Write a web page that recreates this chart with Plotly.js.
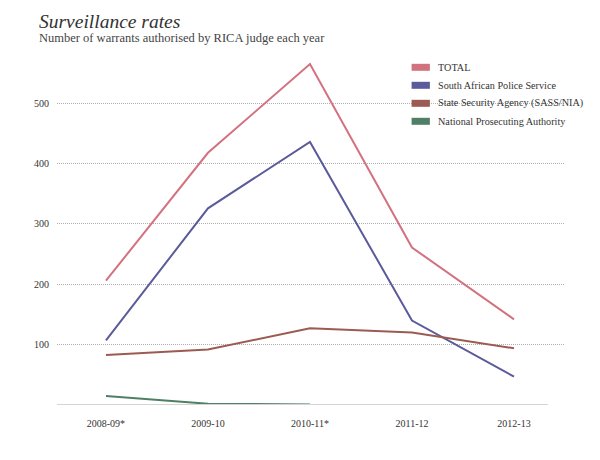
<!DOCTYPE html>
<html>
<head>
<meta charset="utf-8">
<script src="https://cdn.plot.ly/plotly-3.0.1.min.js"></script>
<style>html,body{margin:0;padding:0;background:#fff;}#chart{width:600px;height:460px;}</style>
</head>
<body>
<div id="chart"></div>
<script>
const years = ["2008-09*", "2009-10", "2010-11*", "2011-12", "2012-13"];
const totalVals = [206, 418, 565, 261, 142];
const sapsVals = [107, 326, 436, 140, 47];
const ssaVals = [83, 92, 127, 120, 94];
const npaVals = [15, 2, 1, null, null];
const seriesNames = ["TOTAL", "South African Police Service", "State Security Agency (SASS/NIA)", "National Prosecuting Authority"];
const seriesColors = ["#d3727f", "#5b5b9b", "#9b5b52", "#4f7f66"];
const yTicks = [100, 200, 300, 400, 500];

const serif = "Liberation Serif, DejaVu Serif, serif";
const allVals = [totalVals, sapsVals, ssaVals, npaVals];

const traces = allVals.map((v, i) => ({
  type: "scatter", mode: "lines", x: years, y: v, name: seriesNames[i],
  line: {color: seriesColors[i], width: 2}, connectgaps: false, hoverinfo: "skip"
}));

const H = 356, B = 405;
const py = p => (B - p) / H;
const shapes = [
  {type: "rect", xref: "paper", yref: "paper", x0: 0.6516, x1: 1.0, y0: py(135), y1: py(55), fillcolor: "#fff", line: {width: 0}, layer: "between"},
  {type: "line", xref: "paper", yref: "y", x0: 0, x1: 0.9665, y0: 0, y1: 0, line: {color: "#d4d4d4", width: 2}, layer: "above"}
];
const annotations = [
  {xref: "paper", yref: "paper", x: -0.0394, y: py(21), xanchor: "left", yanchor: "middle", showarrow: false,
   text: "<i>Surveillance rates</i>", font: {family: serif, size: 19.5, color: "#333"}},
  {xref: "paper", yref: "paper", x: -0.0394, y: py(38), xanchor: "left", yanchor: "middle", showarrow: false,
   text: "Number of warrants authorised by RICA judge each year", font: {family: serif, size: 12.5, color: "#444"}}
];
seriesNames.forEach((n, i) => {
  const c = 67.3 + 18 * i;
  shapes.push({type: "rect", xref: "paper", yref: "paper", x0: 0.698, x1: 0.734, y0: py(c + 3.5), y1: py(c - 3.5),
    fillcolor: seriesColors[i], line: {width: 0}, layer: "above"});
  annotations.push({xref: "paper", yref: "paper", x: 0.7455, y: py(c), xanchor: "left", yanchor: "middle", showarrow: false,
    text: n, font: {family: serif, size: 10.2, color: "#333"}});
});

const layout = {
  width: 600, height: 460,
  margin: {l: 57, r: 35, t: 49, b: 55},
  paper_bgcolor: "#fff", plot_bgcolor: "#fff",
  showlegend: false,
  xaxis: {
    type: "category", range: [-0.48, 4.5], showgrid: false, zeroline: false, showline: false,
    ticks: "outside", ticklen: 9, tickcolor: "rgba(0,0,0,0)",
    tickfont: {family: serif, size: 10, color: "#333"}
  },
  yaxis: {
    range: [0, 590], tickvals: yTicks, showgrid: true, gridcolor: "#b0b0b0", griddash: "1px,1px", gridwidth: 1,
    zeroline: false, showline: false, ticks: "", ticklabelstandoff: 7,
    tickfont: {family: serif, size: 10, color: "#333"}
  },
  shapes: shapes,
  annotations: annotations
};

Plotly.newPlot("chart", traces, layout, {staticPlot: true, displayModeBar: false});
</script>
</body>
</html>
